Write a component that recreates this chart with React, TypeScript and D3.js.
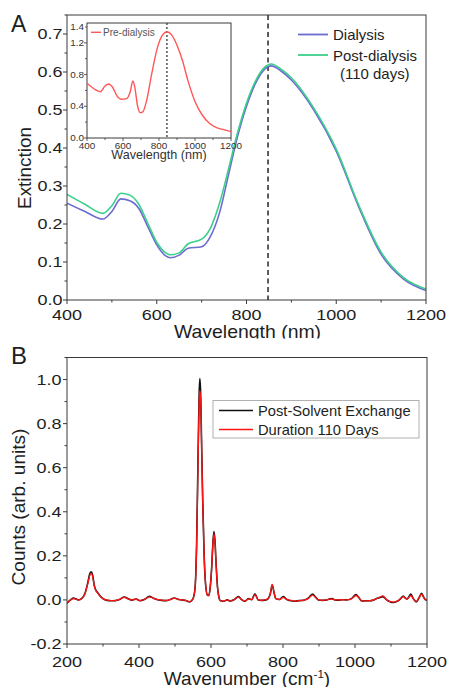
import React from "react";
import * as d3 from "d3";

// ---------- Panel A data ----------
const wlA = [400, 440, 480, 500, 520, 540, 560, 580, 600, 620, 630, 650, 670, 700, 720, 740, 760, 780, 800, 820, 840, 855, 880, 900, 950, 1000, 1050, 1100, 1150, 1200];
const dialysis = [0.255, 0.233, 0.213, 0.233, 0.266, 0.261, 0.241, 0.193, 0.145, 0.116, 0.111, 0.118, 0.136, 0.140, 0.168, 0.230, 0.330, 0.43, 0.51, 0.57, 0.607, 0.616, 0.60, 0.579, 0.50, 0.392, 0.245, 0.120, 0.055, 0.025];
const postDialysis = [0.278, 0.252, 0.228, 0.248, 0.281, 0.276, 0.252, 0.202, 0.152, 0.124, 0.119, 0.124, 0.148, 0.160, 0.190, 0.255, 0.345, 0.44, 0.518, 0.576, 0.612, 0.621, 0.605, 0.585, 0.505, 0.397, 0.25, 0.126, 0.059, 0.029];
const peakWl = 848;
const seriesA = ["Dialysis", "Post-dialysis"];

// inset
const wlInset = [400, 450, 475, 500, 520, 540, 570, 590, 620, 640, 655, 665, 680, 695, 710, 730, 760, 790, 820, 845, 870, 900, 930, 960, 1000, 1040, 1080, 1120, 1160, 1200];
const preDialysis = [0.69, 0.605, 0.584, 0.656, 0.68, 0.647, 0.52, 0.488, 0.496, 0.584, 0.72, 0.647, 0.416, 0.32, 0.33, 0.46, 0.815, 1.13, 1.30, 1.34, 1.30, 1.17, 0.98, 0.73, 0.46, 0.29, 0.185, 0.13, 0.105, 0.08];
const insetPeakWl = 844;

const xTicksA = [400, 600, 800, 1000, 1200];
const yTicksA = [0, 0.1, 0.2, 0.3, 0.4, 0.5, 0.6, 0.7];
const yTicksInset = [0, 0.4, 0.8, 1.2, 1.4];

// ---------- Panel B data ----------
const wn = [200, 210, 218, 226, 232, 242, 250, 258, 263, 267, 271, 276, 280, 286, 292, 300, 311, 322, 334, 346, 359, 370, 380, 392, 403, 415, 429, 440, 449, 463, 477, 490, 498, 508, 518, 530, 541, 548, 552, 556, 560, 564, 567, 569, 571, 574, 577, 581, 585, 590, 594, 598, 602, 605, 608, 611, 614, 618, 622, 626, 635, 645, 653, 665, 676, 686, 694, 704, 713, 722, 731, 740, 750, 759, 765, 770, 775, 780, 790, 801, 808, 815, 824, 833, 845, 856, 870, 882, 890, 898, 910, 921, 935, 945, 953, 965, 976, 990, 1003, 1010, 1019, 1030, 1042, 1052, 1060, 1068, 1077, 1083, 1088, 1097, 1107, 1115, 1121, 1128, 1134, 1140, 1144, 1150, 1155, 1162, 1170, 1178, 1185, 1191, 1197, 1200];
const postSolvent = [-0.015, 0.0, 0.008, 0.004, 0.0, 0.008, 0.03, 0.08, 0.118, 0.128, 0.115, 0.065, 0.045, 0.032, 0.018, 0.006, -0.002, -0.004, -0.003, 0.002, 0.013, 0.005, -0.001, 0.004, -0.004, 0.002, 0.016, 0.008, 0.002, -0.002, -0.003, 0.004, 0.009, 0.003, 0.0, -0.003, -0.009, 0.0, 0.015, 0.06, 0.25, 0.65, 0.93, 1.005, 0.95, 0.70, 0.45, 0.20, 0.07, 0.022, 0.02, 0.06, 0.15, 0.25, 0.31, 0.27, 0.17, 0.06, 0.012, -0.004, -0.006, 0.0, -0.005, 0.002, 0.015, 0.0, -0.006, 0.006, 0.001, 0.028, 0.0, -0.002, -0.001, 0.006, 0.03, 0.068, 0.035, 0.006, 0.002, 0.015, 0.005, -0.001, -0.004, -0.006, -0.003, -0.002, 0.008, 0.027, 0.014, 0.0, -0.002, 0.0, 0.006, 0.0, -0.001, 0.001, 0.0, 0.006, 0.024, 0.012, -0.005, -0.004, -0.004, 0.0, 0.006, 0.01, 0.015, 0.008, 0.0, -0.008, -0.012, -0.008, -0.003, 0.008, 0.018, 0.008, 0.004, 0.015, 0.027, 0.006, -0.009, 0.01, 0.03, 0.012, 0.0, 0.0];
const duration110 = [-0.015, 0.0, 0.006, 0.004, 0.0, 0.007, 0.028, 0.075, 0.11, 0.12, 0.108, 0.062, 0.043, 0.03, 0.017, 0.006, -0.001, -0.003, -0.003, 0.003, 0.012, 0.005, 0.0, 0.003, -0.003, 0.002, 0.014, 0.008, 0.002, -0.001, -0.002, 0.004, 0.008, 0.003, 0.0, -0.002, -0.008, 0.0, 0.015, 0.06, 0.24, 0.62, 0.89, 0.95, 0.92, 0.69, 0.445, 0.20, 0.07, 0.022, 0.02, 0.06, 0.148, 0.245, 0.30, 0.262, 0.165, 0.058, 0.012, -0.003, -0.005, 0.0, -0.004, 0.002, 0.013, 0.001, -0.005, 0.005, 0.001, 0.024, 0.001, -0.002, 0.0, 0.006, 0.03, 0.07, 0.035, 0.007, 0.002, 0.012, 0.005, 0.0, -0.003, -0.005, -0.003, -0.002, 0.006, 0.022, 0.012, 0.001, -0.002, 0.0, 0.005, 0.0, 0.0, 0.001, 0.0, 0.005, 0.02, 0.012, -0.004, -0.004, -0.003, 0.0, 0.006, 0.012, 0.018, 0.01, 0.0, -0.007, -0.01, -0.007, -0.002, 0.007, 0.015, 0.007, 0.004, 0.012, 0.02, 0.005, -0.007, 0.01, 0.026, 0.01, 0.0, 0.0];
const seriesB = ["Post-Solvent Exchange", "Duration 110 Days"];
const xTicksB = [200, 400, 600, 800, 1000, 1200];
const yTicksB = [-0.2, 0, 0.2, 0.4, 0.6, 0.8, 1.0];

const FONT = "'Liberation Sans', Arial, Helvetica, sans-serif";
const TXT = "#1e1e1e";
const AX = "#3a3a3a";

type TP = { x: number; y: number; size: number; sx?: number; anchor?: string; rotate?: number; fill?: string; children?: React.ReactNode };
const T = ({ x, y, size, sx = 1, anchor = "start", rotate = 0, fill = TXT, children }: TP) => (
  <text transform={`translate(${x},${y}) rotate(${rotate}) scale(${sx},1)`} fontSize={size} fontFamily={FONT} textAnchor={anchor as any} fill={fill}>
    {children}
  </text>
);

const fmt1 = (v: number) => (Math.abs(v) < 1e-9 ? "0.0" : v.toFixed(1));

export default function App() {
  // Panel A scales
  const xA = d3.scaleLinear().domain([400, 1200]).range([67, 426]);
  const yA = d3.scaleLinear().domain([0, 0.75]).range([300, 15]);
  const lineA = (ys: number[]) =>
    d3.line<number>().x((_, i) => xA(wlA[i])).y((d) => yA(d)).curve(d3.curveMonotoneX)(ys) || "";

  // inset
  const xI = d3.scaleLinear().domain([400, 1200]).range([87, 231]);
  const yI = d3.scaleLinear().domain([0, 1.45]).range([138, 23]);
  const lineI = d3.line<number>().x((_, i) => xI(wlInset[i])).y((d) => yI(d)).curve(d3.curveMonotoneX)(preDialysis) || "";

  // Panel B scales
  const xB = d3.scaleLinear().domain([200, 1200]).range([67, 427]);
  const yB = d3.scaleLinear().domain([-0.2, 1.1]).range([644, 357.5]);
  const lineB = (ys: number[]) =>
    d3.line<number>().x((_, i) => xB(wn[i])).y((d) => yB(d)).curve(d3.curveMonotoneX)(ys) || "";

  const minorXA = d3.range(400, 1201, 100);
  const minorYA = d3.range(0, 0.751, 0.05);
  const minorXI = d3.range(400, 1201, 100);
  const minorYI = d3.range(0, 1.41, 0.2);
  const minorXB = d3.range(200, 1201, 100);
  const minorYB = d3.range(-0.2, 1.101, 0.1);

  return (
    <svg width={449} height={687} style={{ position: "absolute", left: 0, top: 0, background: "#fff" }}>
      <defs>
        <clipPath id="clipA">
          <rect x={0} y={0} width={449} height={338.5} />
        </clipPath>
        <clipPath id="plotA">
          <rect x={67} y={15} width={359} height={285} />
        </clipPath>
        <clipPath id="plotB">
          <rect x={67} y={357.5} width={360} height={286.5} />
        </clipPath>
      </defs>
      <rect width={449} height={687} fill="#fff" />

      {/* ================= Panel A ================= */}
      <g clipPath="url(#clipA)">
        <T x={11} y={32} size={23}>A</T>
        {/* curves */}
        <g clipPath="url(#plotA)">
          <line x1={xA(peakWl)} x2={xA(peakWl)} y1={15} y2={300} stroke="#333" strokeWidth={1.6} strokeDasharray="5,3.5" />
          <path d={lineA(dialysis)} fill="none" stroke="#6b6bd0" strokeWidth={1.6} />
          <path d={lineA(postDialysis)} fill="none" stroke="#3ccf8c" strokeWidth={1.6} />
        </g>
        {/* frame */}
        <rect x={67} y={15} width={359} height={285} fill="none" stroke={AX} strokeWidth={1} />
        {minorXA.map((v) => (
          <line key={"mxa" + v} x1={xA(v)} x2={xA(v)} y1={300} y2={v % 200 === 0 ? 304 : 302.5} stroke={AX} />
        ))}
        {minorYA.map((v, i) => (
          <line key={"mya" + i} x1={i % 2 === 0 ? 63 : 64.5} x2={67} y1={yA(v)} y2={yA(v)} stroke={AX} />
        ))}
        {xTicksA.map((v) => (
          <T key={"xa" + v} x={xA(v)} y={320} size={15} sx={1.2} anchor="middle">{String(v)}</T>
        ))}
        {yTicksA.map((v) => (
          <T key={"ya" + v} x={62.5} y={yA(v) + 5.4} size={15} sx={1.2} anchor="end">{fmt1(v)}</T>
        ))}
        <T x={(67 + 426) / 2 + 1} y={338} size={18} sx={1.08} anchor="middle">Wavelength (nm)</T>
        <T x={30.5} y={168} size={18} sx={1.05} anchor="middle" rotate={-90}>Extinction</T>

        {/* legend */}
        <line x1={298} x2={328} y1={34.5} y2={34.5} stroke="#6b6bd0" strokeWidth={1.8} />
        <T x={333} y={40} size={14} sx={1.07}>{seriesA[0]}</T>
        <line x1={298} x2={328} y1={55} y2={55} stroke="#3ccf8c" strokeWidth={1.8} />
        <T x={333} y={60.5} size={14} sx={1.07}>{seriesA[1]}</T>
        <T x={340} y={78.5} size={14} sx={1.07}>(110 days)</T>

        {/* inset */}
        <rect x={87} y={23} width={144} height={115} fill="#fff" stroke={AX} strokeWidth={1} />
        <line x1={xI(insetPeakWl)} x2={xI(insetPeakWl)} y1={23} y2={138} stroke="#444" strokeWidth={1.4} strokeDasharray="2,2" />
        <path d={lineI} fill="none" stroke="#ff5757" strokeWidth={1.4} />
        {minorXI.map((v) => (
          <line key={"mxi" + v} x1={xI(v)} x2={xI(v)} y1={138} y2={v % 200 === 0 ? 141 : 140} stroke={AX} strokeWidth={0.8} />
        ))}
        {minorYI.map((v, i) => (
          <line key={"myi" + i} x1={i % 2 === 0 ? 84 : 85} x2={87} y1={yI(v)} y2={yI(v)} stroke={AX} strokeWidth={0.8} />
        ))}
        {xTicksA.map((v) => (
          <T key={"xi" + v} x={xI(v)} y={148.5} size={9} sx={1.1} anchor="middle" fill="#333">{String(v)}</T>
        ))}
        {yTicksInset.map((v) => (
          <T key={"yi" + v} x={84} y={yI(v) + 3.2} size={9} sx={1.1} anchor="end" fill="#333">{fmt1(v)}</T>
        ))}
        <T x={159} y={159} size={12} sx={1.05} anchor="middle" fill="#333">Wavelength (nm)</T>
        <line x1={91} x2={101} y1={32.3} y2={32.3} stroke="#ff5757" strokeWidth={1.4} />
        <T x={103} y={35.6} size={10} sx={1.0} fill="#555">Pre-dialysis</T>
      </g>

      {/* ================= Panel B ================= */}
      <T x={11} y={363.5} size={24}>B</T>
      <g clipPath="url(#plotB)">
        <path d={lineB(postSolvent)} fill="none" stroke="#111" strokeWidth={1.6} />
        <path d={lineB(duration110)} fill="none" stroke="#ff1414" strokeWidth={1.3} />
      </g>
      <rect x={67} y={357.5} width={360} height={286.5} fill="none" stroke={AX} strokeWidth={1} />
      {minorXB.map((v) => (
        <line key={"mxb" + v} x1={xB(v)} x2={xB(v)} y1={644} y2={v % 200 === 0 ? 648 : 646.5} stroke={AX} />
      ))}
      {minorYB.map((v, i) => (
        <line key={"myb" + i} x1={i % 2 === 0 ? 63 : 64.5} x2={67} y1={yB(v)} y2={yB(v)} stroke={AX} />
      ))}
      {xTicksB.map((v) => (
        <T key={"xb" + v} x={xB(v)} y={666.5} size={15} sx={1.2} anchor="middle">{String(v)}</T>
      ))}
      {yTicksB.map((v) => (
        <T key={"yb" + v} x={61.5} y={yB(v) + 5.4} size={15} sx={1.2} anchor="end">{fmt1(v)}</T>
      ))}
      <text transform={`translate(247,684.5) scale(1.06,1)`} fontSize={18} fontFamily={FONT} textAnchor="middle" fill={TXT}>
        Wavenumber (cm<tspan fontSize={11} dy={-7}>-1</tspan><tspan dy={7}>)</tspan>
      </text>
      <T x={25} y={507} size={18} sx={1.06} anchor="middle" rotate={-90}>Counts (arb. units)</T>

      {/* legend B */}
      <rect x={213} y={400.5} width={206} height={37.5} fill="#fff" stroke="#b0b0b0" strokeWidth={1} />
      <line x1={219} x2={253} y1={410.5} y2={410.5} stroke="#111" strokeWidth={1.4} />
      <T x={258} y={415.5} size={14} sx={1.05}>{seriesB[0]}</T>
      <line x1={219} x2={253} y1={429.5} y2={429.5} stroke="#ff1414" strokeWidth={1.4} />
      <T x={258} y={434.5} size={14} sx={1.05}>{seriesB[1]}</T>
    </svg>
  );
}
